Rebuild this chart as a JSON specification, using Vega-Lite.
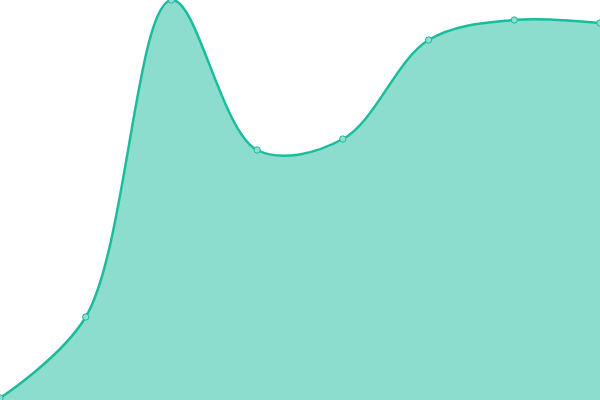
{
  "$schema": "https://vega.github.io/schema/vega-lite/v6.json",
  "width": 600,
  "height": 400,
  "padding": 0,
  "autosize": {"type": "none"},
  "background": "white",
  "config": {"view": {"stroke": null}},
  "data": {
    "values": [
      {"step": 0, "value": 2},
      {"step": 1, "value": 83},
      {"step": 2, "value": 400},
      {"step": 3, "value": 250},
      {"step": 4, "value": 261},
      {"step": 5, "value": 360},
      {"step": 6, "value": 380},
      {"step": 7, "value": 377}
    ]
  },
  "encoding": {
    "x": {"field": "step", "type": "quantitative", "scale": {"domain": [0, 7], "nice": false, "zero": false}, "axis": null},
    "y": {"field": "value", "type": "quantitative", "scale": {"domain": [0, 400], "nice": false}, "axis": null}
  },
  "layer": [
    {
      "mark": {"type": "area", "interpolate": "catmull-rom", "color": "#1abc9c", "opacity": 0.5, "line": {"color": "#1abc9c", "strokeWidth": 2.5}}
    },
    {
      "mark": {"type": "point", "shape": "circle", "size": 40, "filled": true, "fill": "#8be0cf", "stroke": "#1abc9c", "strokeWidth": 1, "opacity": 1}
    }
  ]
}
